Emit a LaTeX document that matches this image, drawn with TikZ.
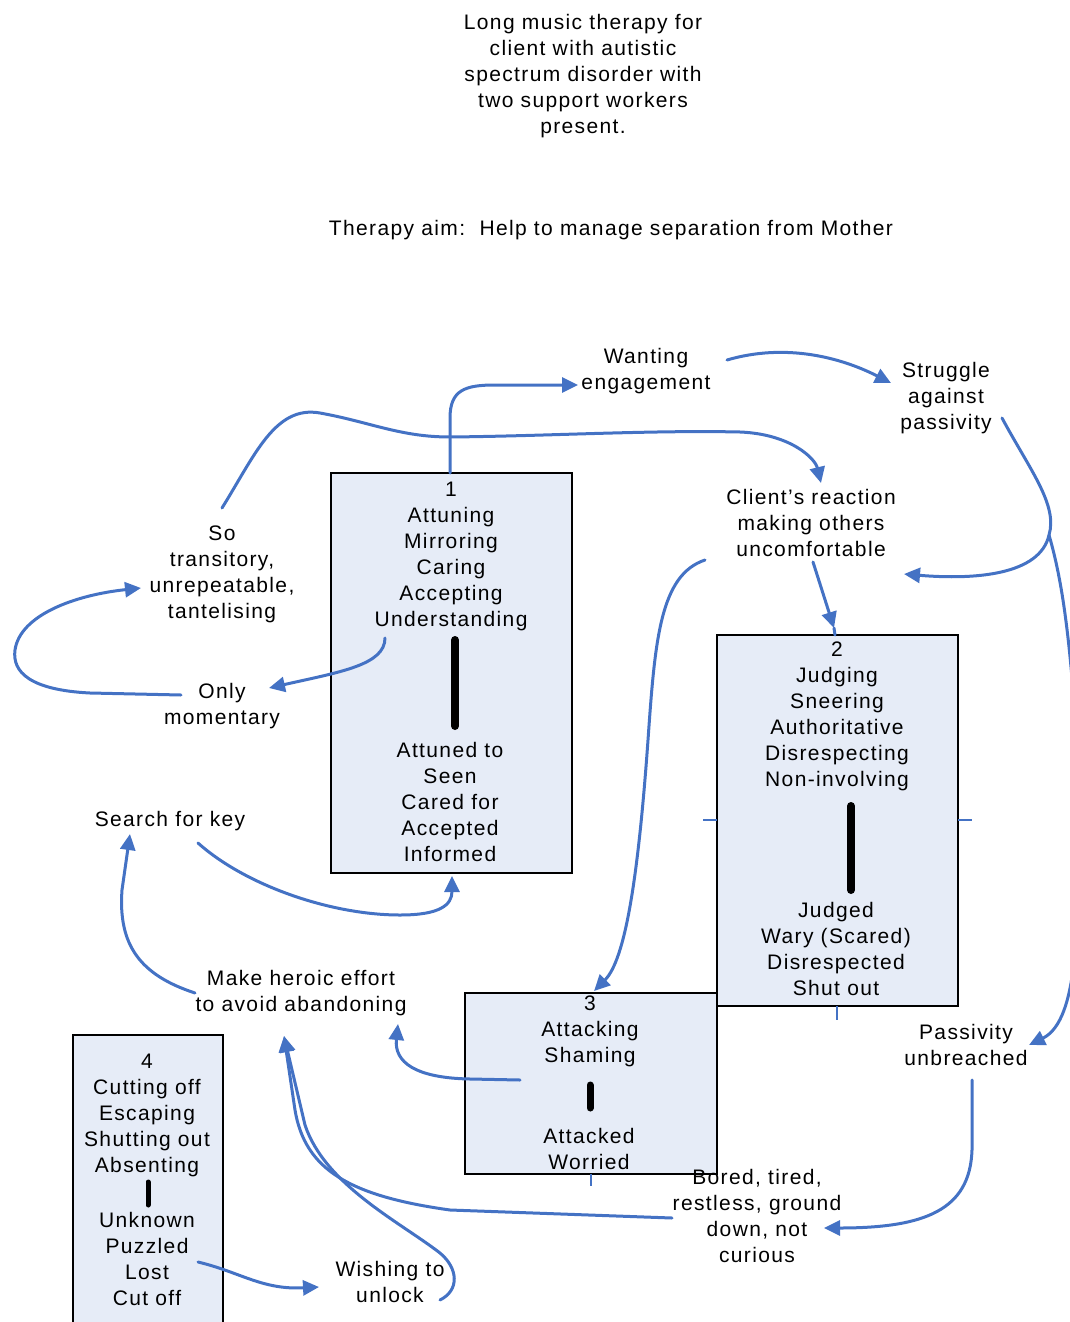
\documentclass[tikz,border=0pt]{standalone}
\usepackage{fontspec}
\setmainfont[LetterSpace=6.5]{Liberation Sans}
\usetikzlibrary{arrows.meta}
\definecolor{boxfill}{RGB}{230,236,247}
\definecolor{conblue}{RGB}{68,114,196}
\tikzset{
  box/.style={draw=black, line width=1pt, fill=boxfill, inner sep=0pt},
  lbl/.style={align=center, inner sep=0pt, font=\fontsize{10.5}{13}\selectfont, yshift=-1pt},
  conn/.style={draw=conblue, line width=1.5pt, line cap=round, line join=round},
  arr/.style={conn, -{Triangle[length=8pt,width=7.5pt]}},
  tick/.style={draw=conblue, line width=0.8pt},
  bar/.style={draw=black, line width=4pt, line cap=round}
}
\begin{document}
\begin{tikzpicture}[x=0.5pt,y=-0.5pt]
\useasboundingbox (0,0) rectangle (1070,1322);
\clip (0,0) rectangle (1070,1322);

% boxes
\node[box, minimum width=120.5pt, minimum height=200pt] (b1) at (451.5,673) {};
\node[box, minimum width=120.5pt, minimum height=185.5pt] (b2) at (837.5,820.5) {};
\node[box, minimum width=126pt, minimum height=90.5pt] (b3) at (591,1083.5) {};
\fill[boxfill] (73,1035) rectangle (223,1330);
\draw[line width=1pt] (73,1330) -- (73,1035) -- (223,1035) -- (223,1330);
\coordinate (b4) at (148,1180);

% bars
\draw[bar] (455,640) -- (455,726);
\draw[bar] (851,806) -- (851,890);
\draw[bar, line width=3.5pt] (590,1085) -- (590,1108);
\draw[bar, line width=2.5pt] (148,1182) -- (148,1205);

% ticks
\draw[tick] (703,820) -- (717,820);
\draw[tick] (958,820) -- (972,820);
\draw[tick] (837,1006) -- (837,1020);
\draw[tick] (591,1174) -- (591,1186);

% texts
\node[lbl] (title) at (583,74.5) {Long music therapy for\\client with autistic\\spectrum disorder with\\two support workers\\present.};
\node[lbl] (aim) at (611,228) {Therapy aim:\ \ Help to manage separation from Mother};
\node[lbl] (t1a) at (451,554) {1\\Attuning\\Mirroring\\Caring\\Accepting\\Understanding};
\node[lbl] (t1b) at (450,800) {Attuned to\\Seen\\Cared for\\Accepted\\Informed};
\node[lbl] (t2a) at (837,714.5) {2\\Judging\\Sneering\\Authoritative\\Disrespecting\\Non-involving};
\node[lbl] (t2b) at (836,947) {Judged\\Wary (Scared)\\Disrespected\\Shut out};
\node[lbl] (t3a) at (590,1029) {3\\Attacking\\Shaming};
\node[lbl] (t3b) at (589,1146.5) {Attacked\\Worried};
\node[lbl] (t4a) at (147,1113.5) {4\\Cutting off\\Escaping\\Shutting out\\Absenting};
\node[lbl] (t4b) at (147,1256.5) {Unknown\\Puzzled\\Lost\\Cut off};
\node[lbl] (want) at (646,369.5) {Wanting\\engagement};
\node[lbl] (strug) at (946,396) {Struggle\\against\\passivity};
\node[lbl] (client) at (811,520.5) {Client's reaction\\making others\\uncomfortable};
\node[lbl] (so) at (222,572) {So\\transitory,\\unrepeatable,\\tantelising};
\node[lbl] (only) at (222,704.5) {Only\\momentary};
\node[lbl] (search) at (170,819) {Search for key};
\node[lbl] (heroic) at (301,991.5) {Make heroic effort\\to avoid abandoning};
\node[lbl] (passiv) at (966,1042.5) {Passivity\\unbreached};
\node[lbl] (bored) at (757,1214) {Bored, tired,\\restless, ground\\down, not\\curious};
\node[lbl] (wish) at (390,1280) {Wishing to\\unlock};

% connector end points
\coordinate (c1s) at (450,473);
\coordinate (c1e) at (578,385);
\coordinate (c2s) at (727,360);
\coordinate (c2e) at (891,383);
\coordinate (c3s) at (1002,418);
\coordinate (c3f) at (1049,535);
\coordinate (c3e) at (904,574);
\coordinate (c3r) at (1080,800);
\coordinate (c3p) at (1029,1045);
\coordinate (c4s) at (222,508);
\coordinate (c4e) at (821,483);
\coordinate (c5s) at (813,562);
\coordinate (c5e) at (834,628);
\coordinate (c6s) at (705,560);
\coordinate (c6e) at (594,991);
\coordinate (c7s) at (385,638);
\coordinate (c7e) at (269,688);
\coordinate (c8s) at (181,695);
\coordinate (c8e) at (141,588);
\coordinate (c9s) at (198,843);
\coordinate (c9e) at (452,876);
\coordinate (c10s) at (195,993);
\coordinate (c10e) at (130,834);
\coordinate (c11s) at (520,1080);
\coordinate (c11e) at (398,1024);
\coordinate (c12s) at (672,1218);
\coordinate (c12e) at (284,1036);
\coordinate (c13s) at (440,1300);
\coordinate (c14s) at (198,1262);
\coordinate (c14e) at (319,1287);
\coordinate (c15s) at (972,1080);
\coordinate (c15e) at (824,1228);

% connectors
\draw[arr] (c1s) -- (450,418) .. controls (450,390) and (465,385) .. (495,385) -- (c1e);
\draw[arr] (c2s) .. controls (785,343) and (840,357) .. (c2e);
\draw[arr] (c3s) .. controls (1030,470) and (1058,505) .. (c3f) .. controls (1040,575) and (975,580) .. (c3e);
\draw[conn] (c3f) .. controls (1062,580) and (1072,640) .. (c3r);
\draw[arr] (c3r) .. controls (1078,920) and (1080,1020) .. (c3p);
\draw[arr] (c4s) .. controls (255,455) and (275,405) .. (320,413) .. controls (370,422) and (400,437) .. (450,437) .. controls (550,436) and (650,430) .. (740,432) .. controls (790,434) and (815,458) .. (c4e);
\draw[arr] (c5s) -- (c5e);
\draw[conn] (c5e) -- (835,635);
\draw[arr] (c6s) .. controls (660,575) and (655,640) .. (648,740) .. controls (638,880) and (625,960) .. (c6e);
\draw[arr] (c7s) .. controls (385,665) and (340,672) .. (c7e);
\draw[arr] (c8s) -- (90,693) .. controls (30,690) and (12,672) .. (15,650) .. controls (20,615) and (75,595) .. (c8e);
\draw[arr] (c9s) .. controls (245,885) and (330,915) .. (400,915) .. controls (440,915) and (452,905) .. (c9e);
\draw[arr] (c10s) .. controls (140,975) and (118,945) .. (122,890) -- (c10e);
\draw[arr] (c11s) -- (470,1079) .. controls (415,1078) and (394,1062) .. (c11e);
\draw[arr] (c12s) -- (450,1210) .. controls (350,1196) and (305,1170) .. (295,1110) -- (c12e);
\draw[arr] (c13s) .. controls (460,1290) and (458,1268) .. (440,1253) .. controls (400,1222) and (325,1185) .. (305,1125) -- (c12e);
\draw[arr] (c14s) .. controls (240,1272) and (262,1290) .. (c14e);
\draw[arr] (c15s) -- (972,1150) .. controls (970,1210) and (925,1228) .. (c15e);
\end{tikzpicture}
\end{document}
